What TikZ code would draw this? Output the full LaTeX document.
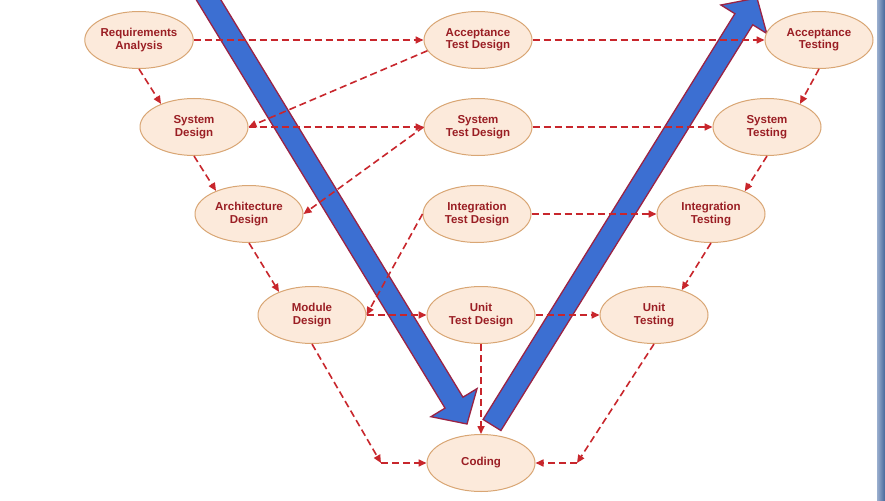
\documentclass[tikz,border=0pt]{standalone}
\usepackage{fontspec}
\setmainfont{Liberation Sans}
\usetikzlibrary{shapes.geometric,arrows.meta,calc}
\definecolor{nodefill}{HTML}{FCEADB}
\definecolor{nodeline}{HTML}{D9A674}
\definecolor{nodetext}{HTML}{9A1E24}
\definecolor{dashred}{HTML}{C8262C}
\definecolor{bigblue}{HTML}{3C6FD2}
\definecolor{bigedge}{HTML}{9A2344}
\definecolor{barL}{HTML}{9AAFCF}
\definecolor{barR}{HTML}{46679A}
\tikzset{
  phase/.style={ellipse, draw=nodeline, fill=nodefill, line width=1pt,
    minimum width=108pt, minimum height=57pt, inner sep=0pt,
    text=nodetext, align=center, font=\bfseries\fontsize{11.5}{12.5}\selectfont},
  link/.style={draw=dashred, line width=1.6pt, dash pattern=on 7pt off 4pt,
    -{Triangle[length=8pt,width=7pt]}},
  bigarrow/.style={fill=bigblue, draw=bigedge, line width=1.3pt, line join=miter}
}
\begin{document}
\begin{tikzpicture}[x=1pt,y=-1pt]
\useasboundingbox (0,0) rectangle (885,500);
\fill[white] (0,0) rectangle (885,500);
\shade[left color=barL, right color=barR] (877,0) rectangle (885,500);

% big blue arrows
\coordinate (L1) at (205,-6);
\coordinate (L2) at (467,424);
\coordinate (LH) at ($(L2)!25pt!(L1)$);
\draw[bigarrow] ($(L1)!10.5pt!90:(L2)$) -- ($(LH)!10.5pt!-90:(L1)$) -- ($(LH)!27pt!-90:(L1)$)
  -- (L2) -- ($(LH)!27pt!90:(L1)$) -- ($(LH)!10.5pt!90:(L1)$) -- ($(L1)!10.5pt!-90:(L2)$) -- cycle;
\coordinate (R1) at (492,425);
\coordinate (R2) at (757,-2);
\coordinate (RH) at ($(R2)!25pt!(R1)$);
\draw[bigarrow] ($(R1)!10.5pt!90:(R2)$) -- ($(RH)!10.5pt!-90:(R1)$) -- ($(RH)!27pt!-90:(R1)$)
  -- (R2) -- ($(RH)!27pt!90:(R1)$) -- ($(RH)!10.5pt!90:(R1)$) -- ($(R1)!10.5pt!-90:(R2)$) -- cycle;

% nodes
\node[phase] (ra)  at (139,40)  {Requirements\\Analysis};
\node[phase] (atd) at (478,40)  {Acceptance\\Test Design};
\node[phase] (at)  at (819,40)  {Acceptance\\Testing};
\node[phase] (sd)  at (194,127) {System\\Design};
\node[phase] (std) at (478,127) {System\\Test Design};
\node[phase] (st)  at (767,127) {System\\Testing};
\node[phase] (ad)  at (249,214) {Architecture\\Design};
\node[phase] (itd) at (477,214) {Integration\\Test Design};
\node[phase] (it)  at (711,214) {Integration\\Testing};
\node[phase] (md)  at (312,315) {Module\\Design};
\node[phase] (utd) at (481,315) {Unit\\Test Design};
\node[phase] (ut)  at (654,315) {Unit\\Testing};
\node[phase] (cd)  at (481,463) {Coding};
\coordinate (cl) at (381,463);
\coordinate (cr) at (577,463);

% connectors
\draw[link] (ra.east) -- (atd.west);
\draw[link] (atd.east) -- (at.west);
\draw[link] (sd.east) -- (std.west);
\draw[link] (std.east) -- (st.west);
\draw[link] (itd.east) -- (it.west);
\draw[link] (md.east) -- (utd.west);
\draw[link] (utd.east) -- (ut.west);
\draw[link] (atd.192) -- (sd.east);
\draw[link] (std.west) -- (ad.east);
\draw[link] (itd.west) -- (md.east);
\draw[link] (ra.south) -- (sd.145);
\draw[link] (sd.south) -- (ad.145);
\draw[link] (ad.south) -- (md.145);
\draw[link] (at.south) -- (st.35);
\draw[link] (st.south) -- (it.34);
\draw[link] (it.south) -- (ut.42);
\draw[link] (utd.south) -- (cd.north);
\draw[link] (md.south) -- (cl);
\draw[link] (cl) -- (cd.west);
\draw[link] (ut.south) -- (cr);
\draw[link] (cr) -- (cd.east);
\end{tikzpicture}
\end{document}
